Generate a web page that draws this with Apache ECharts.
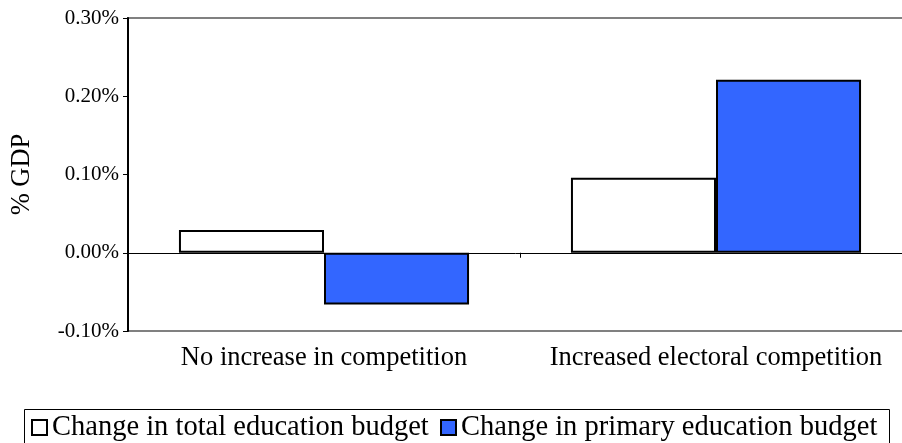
<!DOCTYPE html>
<html>
<head>
<meta charset="utf-8">
<script src="https://cdn.jsdelivr.net/npm/echarts@6/dist/echarts.min.js"></script>
<style>html,body{margin:0;padding:0;background:#fff}#c{width:902px;height:443px}</style>
</head>
<body>
<div id="c"></div>
<script>
var categories = ['No increase in competition', 'Increased electoral competition'];
var seriesNames = ['Change in total education budget', 'Change in primary education budget'];
var totalBudget = [0.029, 0.096];
var primaryBudget = [-0.066, 0.221];
var yTicks = { min: -0.1, max: 0.3, interval: 0.1 };
var yAxisTitle = '% GDP';

var FONT = '"Liberation Serif", "Times New Roman", serif';
var chart = echarts.init(document.getElementById('c'), null, { renderer: 'canvas' });
chart.setOption({
  animation: false,
  backgroundColor: '#fff',
  grid: { left: 128, top: 18, width: 784, bottom: 112, show: true, borderColor: '#808080', borderWidth: 2,
    backgroundColor: 'transparent', containLabel: false, outerBoundsMode: 'none' },
  legend: [
    { data: [seriesNames[0]], left: 31, top: 413, padding: 0, itemWidth: 15, itemHeight: 15,
      icon: 'rect', textStyle: { fontFamily: FONT, fontSize: 28.5, color: '#000' } },
    { data: [seriesNames[1]], left: 440, top: 413, padding: 0, itemWidth: 15, itemHeight: 15,
      icon: 'rect', textStyle: { fontFamily: FONT, fontSize: 28.5, color: '#000' } }
  ],
  graphic: [{ type: 'rect', left: 22, top: 407, shape: { width: 865, height: 50 }, style: { fill: 'none', stroke: '#000', lineWidth: 1 } }],
  xAxis: [
    { type: 'category', data: categories, axisLine: { onZero: true, lineStyle: { color: '#000', width: 1 } },
      axisTick: { show: true, length: 5, lineStyle: { color: '#000' } }, axisLabel: { show: false }, splitLine: { show: false } },
    { type: 'category', data: categories, position: 'bottom', axisLine: { show: false, onZero: false },
      axisTick: { show: false }, axisLabel: { show: true, interval: 0, hideOverlap: false, margin: 14, fontFamily: FONT, fontSize: 26.5, color: '#000' }, splitLine: { show: false } }
  ],
  yAxis: {
    type: 'value', min: yTicks.min, max: yTicks.max, interval: yTicks.interval,
    name: yAxisTitle, nameLocation: 'middle', nameGap: 92, nameRotate: 90,
    nameTextStyle: { fontFamily: FONT, fontSize: 26.5, color: '#000' },
    axisLine: { show: true, lineStyle: { color: '#000', width: 2 } },
    axisTick: { show: true, length: 5, lineStyle: { color: '#000' } },
    axisLabel: { margin: 9, fontFamily: FONT, fontSize: 21, color: '#000', formatter: function (v) { return v.toFixed(2) + '%'; } },
    splitLine: { show: false }
  },
  series: [
    { name: seriesNames[0], type: 'bar', data: totalBudget, xAxisIndex: 0, barGap: '0%', barCategoryGap: '26%',
      itemStyle: { color: '#ffffff', borderColor: '#000', borderWidth: 2 } },
    { name: seriesNames[1], type: 'bar', data: primaryBudget, xAxisIndex: 0, barGap: '0%', barCategoryGap: '26%',
      itemStyle: { color: '#3366ff', borderColor: '#000', borderWidth: 2 } }
  ]
});
</script>
</body>
</html>
